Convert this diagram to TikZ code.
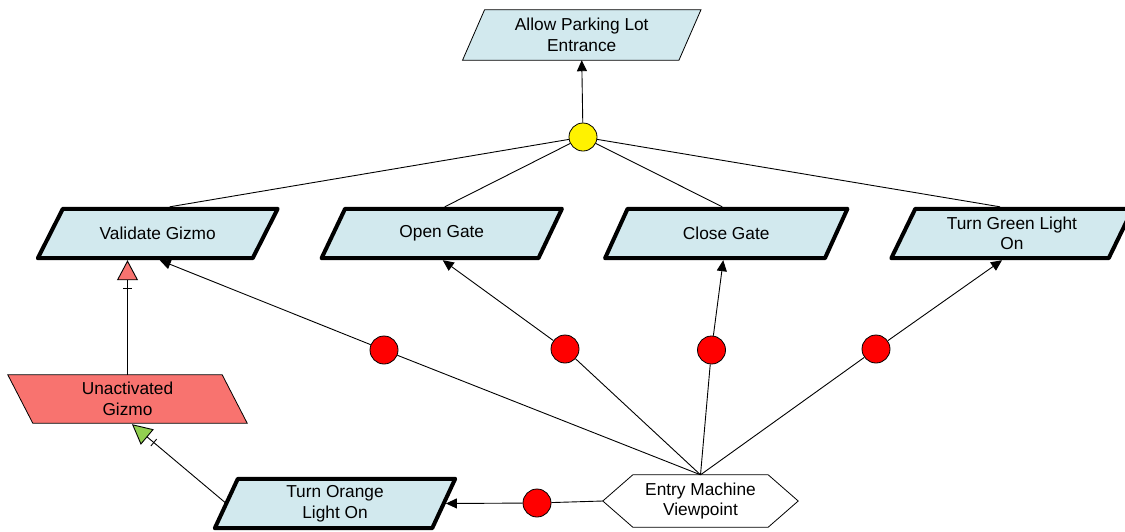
\documentclass[tikz,border=0pt]{standalone}
\usepackage{fontspec}
\setmainfont{Liberation Sans}
\usetikzlibrary{arrows.meta,calc,backgrounds}
\definecolor{boxblue}{HTML}{D2E9EE}
\definecolor{gizsalmon}{HTML}{F8736F}
\definecolor{gizgreen}{HTML}{92D050}
\newcommand\pgramshape[3]{%
  \path[#3] ([xshift={-(#2)/2}]#1.south west) -- ([xshift={-(#2)/2}]#1.south east)
    -- ([xshift={(#2)/2}]#1.north east) -- ([xshift={(#2)/2}]#1.north west) -- cycle;}
\tikzset{
  lbl/.style={rectangle, inner sep=0pt, align=center, text=black,
    font=\fontsize{17.3}{20.5}\selectfont},
  thickbox/.style={draw=black, line width=4pt, fill=boxblue, line join=round},
  thinbox/.style={draw=black, line width=0.8pt, fill=boxblue},
  conn/.style={draw=black, line width=0.9pt},
  arr/.style={conn, -{Triangle[length=11pt,width=10pt]}},
  redc/.style={circle, draw=black, fill=red, minimum size=28pt, inner sep=0pt, line width=0.8pt},
  yelc/.style={circle, draw=black, fill=yellow, minimum size=28pt, inner sep=0pt, line width=0.8pt},
}
\begin{document}
\begin{tikzpicture}[x=1pt,y=-1pt]
\useasboundingbox (0,0) rectangle (1125,531);
% text nodes (shapes drawn on background)
\node[lbl, minimum width=216pt, minimum height=50pt] (al) at (581.75,35) {Allow Parking Lot\\Entrance};
\node[lbl, minimum width=214.5pt, minimum height=49pt] (vg) at (157.75,233.5) {Validate Gizmo};
\node[lbl, minimum width=216.5pt, minimum height=49pt] (og) at (441.75,233.5) {Open Gate};
\node[lbl, minimum width=219.5pt, minimum height=49pt] (cg) at (726.25,233.5) {Close Gate};
\node[lbl, minimum width=217pt, minimum height=49pt] (tg) at (1012,233.5) {Turn Green Light\\On};
\node[lbl, minimum width=214pt, minimum height=48pt] (uag) at (127.5,399) {Unactivated\\Gizmo};
\node[lbl, minimum width=217pt, minimum height=49pt] (to) at (335,503.5) {Turn Orange\\Light On};
\node[lbl, minimum width=135pt, minimum height=52pt] (hex) at (700.5,501) {Entry Machine\\Viewpoint};
\node[yelc] (y) at (583,137) {};
\node[redc] (r1) at (384,350) {};
\node[redc] (r2) at (565,349) {};
\node[redc] (r3) at (711.5,350) {};
\node[redc] (r4) at (876,349) {};
\node[redc] (r5) at (537,503) {};
\begin{pgfonlayer}{background}
  \pgramshape{al}{22}{thinbox}
  \pgramshape{vg}{25}{thickbox}
  \pgramshape{og}{23.5}{thickbox}
  \pgramshape{cg}{22.5}{thickbox}
  \pgramshape{tg}{24}{thickbox}
  \pgramshape{to}{23}{thickbox}
  \pgramshape{uag}{-25}{draw=black, line width=0.8pt, fill=gizsalmon}
  \path[draw=black, line width=0.8pt, fill=white] (hex.north west) -- (hex.north east)
    -- ([xshift=30pt]hex.east) -- (hex.south east) -- (hex.south west)
    -- ([xshift=-30pt]hex.west) -- cycle;
\end{pgfonlayer}
% connectors
\draw[arr] (y) -- (al.south);
\draw[conn] (y) -- ($(vg.north)+(12,-2)$);
\draw[conn] (y) -- ($(og.north)+(3,-2)$);
\draw[conn] (y) -- ($(cg.north)+(-4,-2)$);
\draw[conn] (y) -- ($(tg.north)+(-12,-2)$);
\draw[conn] (hex.north) -- (r1);
\draw[arr] (r1) -- ($(vg.south)+(2,2)$);
\draw[conn] (hex.north) -- (r2);
\draw[arr] (r2) -- ($(og.south)+(1,2)$);
\draw[conn] (hex.north) -- (r3);
\draw[arr] (r3) -- ($(cg.south)+(-3,2)$);
\draw[conn] (hex.north) -- (r4);
\draw[arr] (r4) -- ($(tg.south)+(-10,2)$);
\draw[conn] ([xshift=-30pt]hex.west) -- (r5);
\draw[arr] (r5) -- ([xshift=2.2pt]to.east);
\draw[conn, -{Bar[width=9pt,sep=8pt] Triangle[length=20pt,width=21pt,fill=gizsalmon]}]
  (uag.north) -- ([yshift=-2pt]uag.north |- vg.south);
\draw[conn, -{Bar[width=9pt,sep=8pt] Triangle[length=20pt,width=20pt,fill=gizgreen]}]
  (to.west) -- ($(uag.south)+(4.5,1)$);
\end{tikzpicture}
\end{document}
